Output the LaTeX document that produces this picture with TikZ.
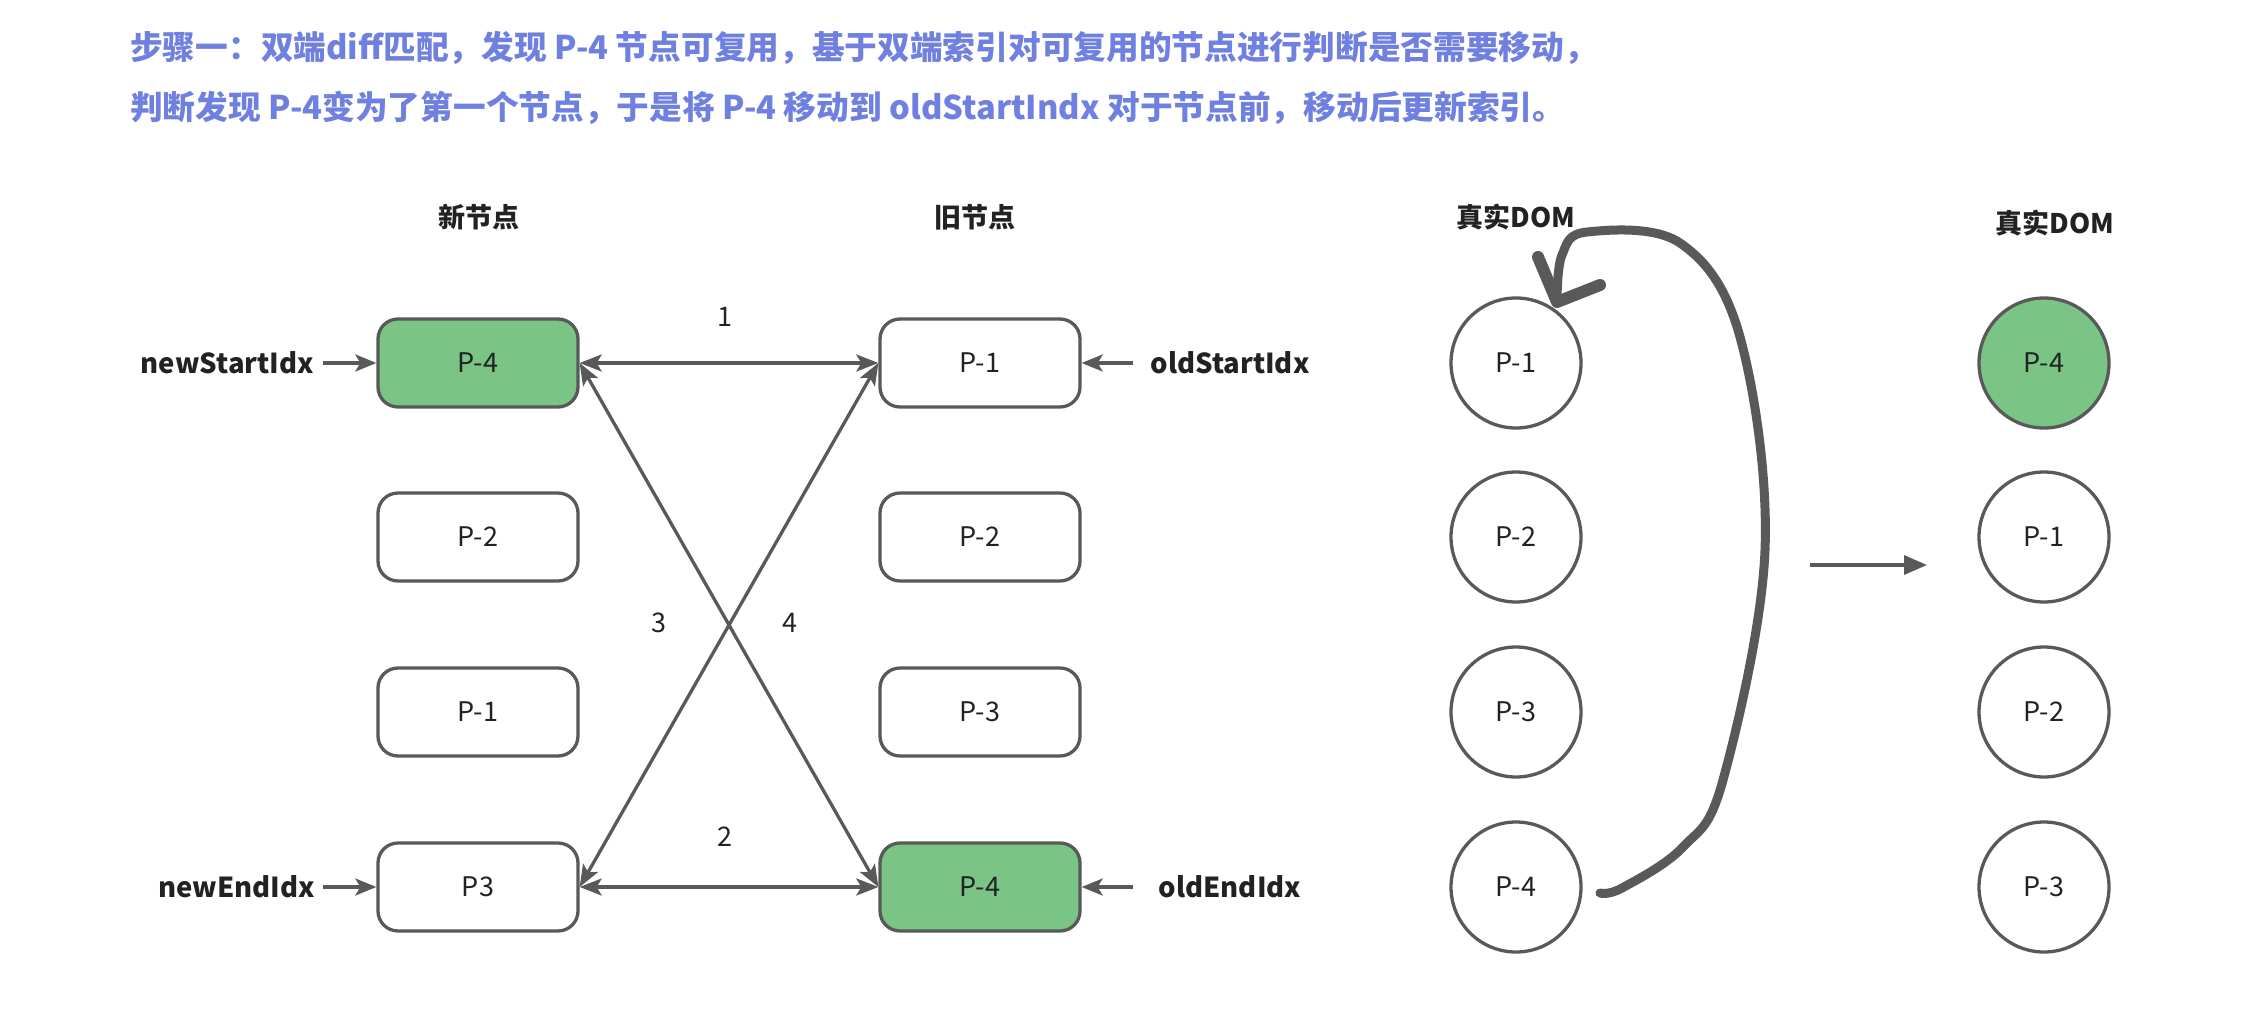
\documentclass[tikz,border=0pt]{standalone}
\usepackage{fontspec}
\setmainfont{Noto Sans CJK SC}
\usetikzlibrary{arrows.meta}

\definecolor{linegray}{RGB}{88,90,89}
\definecolor{nodegreen}{RGB}{122,196,134}
\definecolor{titleblue}{RGB}{112,128,224}
\definecolor{textdark}{RGB}{34,34,34}

\tikzset{
  vnode/.style={draw=linegray, line width=3.3pt, rounded corners=20pt,
    minimum width=200pt, minimum height=88pt, inner sep=0pt,
    text=textdark, font=\fontsize{27}{32}\selectfont},
  domnode/.style={draw=linegray, line width=3.3pt, circle, minimum size=130pt,
    inner sep=0pt, text=textdark, font=\fontsize{27}{32}\selectfont},
  idxlabel/.style={inner sep=0pt, text=textdark, font=\bfseries\fontsize{27.5}{32}\selectfont},
  header/.style={inner sep=0pt, text=textdark, font=\bfseries\fontsize{27}{32}\selectfont},
  steplabel/.style={inner sep=0pt, text=textdark, font=\fontsize{27}{32}\selectfont},
  titleline/.style={anchor=west, inner sep=0pt, text=titleblue, font=\bfseries\fontsize{32.7}{38}\selectfont},
  link/.style={linegray, line width=3.3pt,
    {Stealth[length=22pt,width=17pt,inset=5pt]}-{Stealth[length=22pt,width=17pt,inset=5pt]}},
  ptr/.style={linegray, line width=3.3pt, -{Stealth[length=21pt,width=17pt,inset=5pt]}},
  move/.style={linegray, line width=3.3pt, -{Triangle[length=23pt,width=19pt]}},
  stroke/.style={linegray, line cap=round, line join=round},
}

\begin{document}
\begin{tikzpicture}[x=1pt,y=-1pt]
  \useasboundingbox (0,0) rectangle (2264,1024);

  % title
  \node[titleline] (t1) at (130,48) {步骤一：双端diff匹配，发现 P-4 节点可复用，基于双端索引对可复用的节点进行判断是否需要移动，};
  \node[titleline] (t2) at (130,108) {判断发现 P-4变为了第一个节点，于是将 P-4 移动到 oldStartIndx 对于节点前，移动后更新索引。};

  % column headers
  \node[header] (hnew) at (479,217) {新节点};
  \node[header] (hold) at (975,217) {旧节点};
  \node[header] (hdoma) at (1516,217) {真实DOM};
  \node[header] (hdomb) at (2055,223) {真实DOM};

  % virtual nodes
  \foreach \name/\txt/\y/\col in {n1/P-4/363/nodegreen, n2/P-2/537/white, n3/P-1/712/white, n4/P3/887/white}
    \node[vnode, fill=\col] (\name) at (478,\y) {\txt};
  \foreach \name/\txt/\y/\col in {o1/P-1/363/white, o2/P-2/537/white, o3/P-3/712/white, o4/P-4/887/nodegreen}
    \node[vnode, fill=\col] (\name) at (980,\y) {\txt};

  % real dom
  \foreach \name/\txt/\y/\col in {a1/P-1/363/white, a2/P-2/537/white, a3/P-3/712/white, a4/P-4/887/white}
    \node[domnode, fill=\col] (\name) at (1516,\y) {\txt};
  \foreach \name/\txt/\y/\col in {b1/P-4/363/nodegreen, b2/P-1/537/white, b3/P-2/712/white, b4/P-3/887/white}
    \node[domnode, fill=\col] (\name) at (2044,\y) {\txt};

  % index pointers
  \node[idxlabel, anchor=east] (nsi) at (314,363) {newStartIdx};
  \node[idxlabel, anchor=east] (nei) at (315,887) {newEndIdx};
  \node[idxlabel] (osi) at (1230,363) {oldStartIdx};
  \node[idxlabel] (oei) at (1230,887) {oldEndIdx};
  \coordinate (osit) at (1133,363);
  \coordinate (oeit) at (1133,887);
  \draw[ptr, shorten <=9pt] (nsi) -- (n1);
  \draw[ptr, shorten <=8pt] (nei) -- (n4);
  \draw[ptr] (osit) -- (o1);
  \draw[ptr] (oeit) -- (o4);

  % comparisons
  \draw[link] (n1.east) -- (o1.west);
  \draw[link] (n4.east) -- (o4.west);
  \draw[link] (n1.east) -- (o4.west);
  \draw[link] (n4.east) -- (o1.west);
  \node[steplabel] (s1) at (725,317) {1};
  \node[steplabel] (s2) at (725,837) {2};
  \node[steplabel] (s3) at (659,623) {3};
  \node[steplabel] (s4) at (790,623) {4};

  % move P-4 to the front
  \draw[stroke, line width=9pt] plot[smooth, tension=0.6] coordinates
    {(1600,893) (1622,888) (1683,847) (1723,780) (1765,550) (1740,337) (1680,243) (1587,232) (1562,255) (1557,300)};
  \draw[stroke, line width=12pt] (1538,257) -- (1557,302) -- (1600,285);

  \coordinate (mva) at (1810,565);
  \coordinate (mvb) at (1927,565);
  \draw[move] (mva) -- (mvb);
\end{tikzpicture}
\end{document}
